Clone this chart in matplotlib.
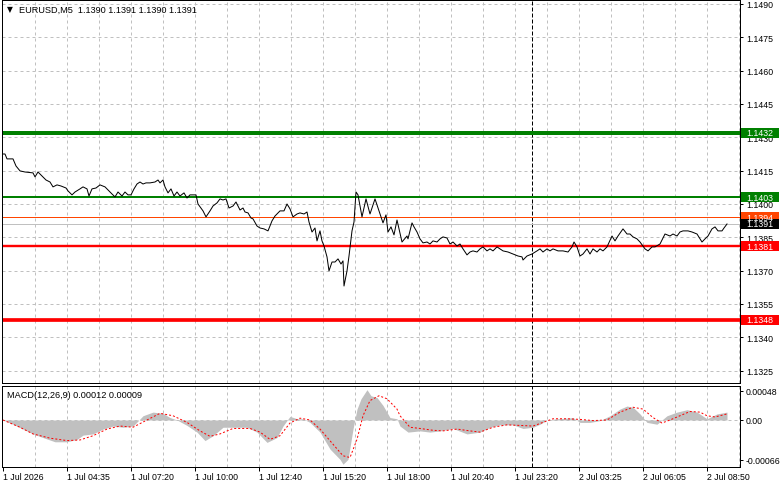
import matplotlib
matplotlib.use("Agg")
import matplotlib.pyplot as plt
import matplotlib.transforms as mtransforms
from matplotlib.patches import Rectangle

# ---------------- data ----------------
symbol = "EURUSD,M5"
ohlc_text = "1.1390 1.1391 1.1390 1.1391"
macd_title = "MACD(12,26,9) 0.00012 0.00009"

price_bars = [0, 1, 2, 5, 6.5, 8.5, 11, 15, 16, 17.5, 19.5, 21.5, 23.5, 25, 27, 29, 31.5, 32.5, 34.5, 36,
              38.5, 40, 42, 43, 44.5, 46.5, 48.5, 51, 52.5, 54.5, 56, 57.5, 59.5, 61, 62.5, 64, 65.5, 67,
              68.5, 70, 71.5, 73.5, 76, 77.5, 78.5, 80, 81, 82.5, 84, 85.5, 87, 88.5, 90.5, 92, 93.5, 95,
              96.5, 97.5, 100, 101.5, 103.5, 105, 107, 108.5, 110, 111.5, 113, 115, 116.5, 118.5, 120, 121,
              122.5, 124, 125, 127, 128.5, 130.5, 132.5, 134.5, 136, 138.5, 140.5, 142, 143.5, 145, 147,
              148.5, 150.5, 152, 153, 154.5, 156, 157, 158.5, 159.5, 160.5, 162, 163, 164.5, 166, 167.5,
              169, 170, 170.5, 172, 173, 174.5, 175.5, 176.5, 177.5, 179.5, 181.5, 183.5, 186, 188.5, 190,
              191.5, 192.5, 194, 195.5, 197, 199.5, 202, 202.5, 204.5, 205.5, 207, 208.5, 210, 212, 213.5,
              215, 217, 218.5, 220, 222, 223.5, 225, 227, 228.5, 230, 232, 233.5, 235, 237, 238.5, 240,
              242, 243.5, 245, 247, 248.5, 250, 252.5, 255, 257.5, 259.5, 260, 262, 264.5, 267, 268.5,
              270, 272, 273.5, 275, 277.5, 280, 282.5, 284.5, 285.5, 287, 288.5, 290, 292, 293.5, 295,
              297, 298.5, 300, 302, 304.5, 306, 307.5, 310, 312, 313.5, 315, 317, 318.5, 321, 322.5,
              324.5, 326, 328.5, 331, 333.5, 335, 337, 338.5, 340, 342.5, 344.5, 347, 349.5, 351, 352.5,
              354.5, 356, 357.5, 359.5, 360.5, 362]
price_close = [1.14225, 1.14225, 1.14203, 1.14203, 1.14171, 1.14149, 1.14144, 1.14140, 1.14122, 1.14144,
               1.14126, 1.14108, 1.14099, 1.14077, 1.14086, 1.14081, 1.14072, 1.14059, 1.14041, 1.14054,
               1.14068, 1.14077, 1.14068, 1.14036, 1.14068, 1.14072, 1.14086, 1.14077, 1.14063, 1.14045,
               1.14032, 1.14054, 1.14036, 1.14054, 1.14041, 1.14041, 1.14068, 1.14090, 1.14099, 1.14090,
               1.14095, 1.14095, 1.14099, 1.14108, 1.14095, 1.14108, 1.14077, 1.14050, 1.14068, 1.14036,
               1.14054, 1.14036, 1.14050, 1.14027, 1.14041, 1.14041, 1.14041, 1.14000, 1.13969, 1.13942,
               1.13969, 1.13991, 1.14005, 1.14023, 1.14018, 1.14023, 1.13982, 1.13991, 1.14009, 1.13973,
               1.13982, 1.13964, 1.13960, 1.13937, 1.13933, 1.13901, 1.13892, 1.13888, 1.13879, 1.13924,
               1.13946, 1.13969, 1.13969, 1.14000, 1.13978, 1.13942, 1.13955, 1.13960, 1.13955, 1.13964,
               1.13919, 1.13874, 1.13892, 1.13834, 1.13879, 1.13834, 1.13811, 1.13762, 1.13699, 1.13739,
               1.13739, 1.13753, 1.13730, 1.13744, 1.13631, 1.13699, 1.13766, 1.13879, 1.13919, 1.14054,
               1.14041, 1.13942, 1.14023, 1.13955, 1.14023, 1.13955, 1.13915, 1.13951, 1.13874, 1.13897,
               1.13861, 1.13928, 1.13829, 1.13856, 1.13843, 1.13915, 1.13897, 1.13874, 1.13843, 1.13825,
               1.13829, 1.13820, 1.13834, 1.13829, 1.13843, 1.13852, 1.13847, 1.13820, 1.13829, 1.13811,
               1.13820, 1.13798, 1.13771, 1.13784, 1.13789, 1.13784, 1.13798, 1.13807, 1.13789, 1.13798,
               1.13789, 1.13807, 1.13798, 1.13789, 1.13784, 1.13775, 1.13766, 1.13762, 1.13748, 1.13766,
               1.13775, 1.13789, 1.13798, 1.13784, 1.13798, 1.13789, 1.13798, 1.13789, 1.13789, 1.13784,
               1.13807, 1.13829, 1.13807, 1.13766, 1.13775, 1.13798, 1.13775, 1.13798, 1.13784, 1.13798,
               1.13789, 1.13807, 1.13856, 1.13834, 1.13856, 1.13888, 1.13865, 1.13865, 1.13852, 1.13843,
               1.13829, 1.13798, 1.13789, 1.13807, 1.13807, 1.13820, 1.13865, 1.13856, 1.13865, 1.13856,
               1.13874, 1.13879, 1.13879, 1.13874, 1.13865, 1.13829, 1.13843, 1.13856, 1.13888, 1.13897,
               1.13879, 1.13879, 1.13892, 1.13910]

level_values = [1.1432, 1.1403, 1.1394, 1.1391, 1.1381, 1.1348]
level_labels = ["1.1432", "1.1403", "1.1394", "1.1391", "1.1381", "1.1348"]

price_ticks = [1.1490, 1.1475, 1.1460, 1.1445, 1.1430, 1.1415, 1.1400, 1.1385, 1.1370, 1.1355, 1.1340, 1.1325]
price_tick_labels = ["1.1490", "1.1475", "1.1460", "1.1445", "1.1430", "1.1415", "1.1400", "1.1385",
                     "1.1370", "1.1355", "1.1340", "1.1325"]

macd_hist_bars = [0, 5, 10, 15, 20, 26, 32, 37, 40, 45, 50, 55, 60, 65, 68, 70, 75, 80, 83.5, 87, 92, 97,
                  101, 105, 110, 115, 122, 127, 132, 137, 140, 143.5, 147, 150, 153.5, 158.5, 163.5, 168.5,
                  170, 172.5, 175, 177, 179, 182, 184, 187, 190, 193.5, 197, 198.5, 202.5, 208.5, 213.5,
                  218.5, 225, 232, 238.5, 243.5, 248.5, 255, 260, 265, 268.5, 272, 277, 282, 285, 288.5,
                  293.5, 298.5, 303.5, 308.5, 312, 315, 318.5, 322, 327, 332, 337, 342, 347, 352, 357, 362]
macd_hist = [0.0, -0.00007, -0.00015, -0.00023, -0.00029, -0.00036, -0.00036, -0.00032, -0.00025, -0.00023,
             -0.00015, -0.00010, -0.00012, -0.00010, 0.0, 0.00007, 0.00013, 0.00011, 0.00004, 0.0,
             -0.00009, -0.00020, -0.00034, -0.00026, -0.00012, -0.00012, -0.00012, -0.00020, -0.00037,
             -0.00029, -0.00010, 0.00006, 0.00002, 0.00002, -0.00004, -0.00020, -0.00048, -0.00065,
             -0.00073, -0.00065, -0.00015, 0.00018, 0.00035, 0.00050, 0.00040, 0.00037, 0.00024, 0.00004,
             0.00002, -0.00010, -0.00020, -0.00018, -0.00020, -0.00018, -0.00014, -0.00023, -0.00020,
             -0.00012, -0.00008, -0.00008, -0.00014, -0.00012, -0.00007, 0.0, 0.00002, 0.00003, 0.00004,
             -0.00004, -0.00004, -0.00001, 0.00007, 0.00018, 0.00023, 0.00021, 0.00010, -0.00004, -0.00007,
             0.00007, 0.00013, 0.00017, 0.00013, 0.00002, 0.00010, 0.00013]

signal_bars = [0, 8.5, 15, 23.5, 32, 38.5, 45, 52, 58.5, 65, 72, 78.5, 85, 92, 98.5, 103.5, 108.5, 115,
               123.5, 128.5, 133.5, 138.5, 143.5, 148.5, 153.5, 158.5, 165, 170, 173.5, 177, 180, 183.5,
               188, 192, 197, 198.5, 203.5, 208.5, 215, 220, 227, 233.5, 238.5, 245, 252, 258.5, 265, 270,
               275, 282, 288.5, 295, 302, 308.5, 315, 320, 325, 329.5, 333.5, 338.5, 343.5, 348.5, 352,
               356, 362]
signal_vals = [0.0, -0.00012, -0.00023, -0.00030, -0.00034, -0.00033, -0.00026, -0.00015, -0.00010,
               -0.00012, 0.0, 0.00011, 0.00007, -0.00004, -0.00018, -0.00027, -0.00023, -0.00014, -0.00014,
               -0.00020, -0.00032, -0.00026, -0.00005, 0.00003, 0.0, -0.00015, -0.00040, -0.00059,
               -0.00062, -0.00032, 0.00007, 0.00032, 0.00040, 0.00035, 0.00018, 0.00007, -0.00012,
               -0.00014, -0.00017, -0.00018, -0.00015, -0.00018, -0.00020, -0.00012, -0.00008, -0.00009,
               -0.00010, -0.00004, 0.00002, 0.00002, 0.00001, -0.00001, 0.0, 0.00013, 0.00021, 0.00018,
               0.00004, -0.00005, 0.0, 0.00007, 0.00014, 0.00013, 0.00007, 0.00005, 0.00010]

macd_ticks = [0.00048, 0.0, -0.00066]
macd_tick_labels = ["0.00048", "0.00", "-0.00066"]

time_labels = ["1 Jul 2026", "1 Jul 04:35", "1 Jul 07:20", "1 Jul 10:00", "1 Jul 12:40", "1 Jul 15:20",
               "1 Jul 18:00", "1 Jul 20:40", "1 Jul 23:20", "2 Jul 03:25", "2 Jul 06:05", "2 Jul 08:50"]
time_label_bars = [0, 32, 64, 96, 128, 160, 192, 224, 256, 288, 320, 352]
grid_bars = list(range(16, 369, 16))
day_separator_bar = 264.5

# ---------------- style / layout ----------------
W, H = 781, 489
PX = 0.72  # one pixel in points at dpi 100
plt.rcParams['font.family'] = ['Liberation Sans', 'DejaVu Sans']
FS = 6.3

level_colors = ['#008000', '#008000', '#FF4500', '#000000', '#FF0000', '#FF0000']
level_line_colors = ['#008000', '#008000', '#FF4500', '#C0C0C0', '#FF0000', '#FF0000']
level_widths = [4, 2, 1, 1, 2.4, 3.7]
grid_color = '#C0C0C0'

fig = plt.figure(figsize=(W / 100, H / 100), dpi=100)
fig.patch.set_facecolor('white')


def px_axes(x0, y0, x1, y1):
    return fig.add_axes([x0 / W, 1 - y1 / H, (x1 - x0) / W, (y1 - y0) / H])


ax = px_axes(2, 1, 740, 384)
ax2 = px_axes(2, 387, 740, 468)

xlim = (-0.5, 368.5)
for a in (ax, ax2):
    a.set_xlim(*xlim)
    for s in a.spines.values():
        s.set_linewidth(PX)
        s.set_color('black')
    for gb in grid_bars:
        a.axvline(gb, color=grid_color, lw=PX, ls=(0, (3, 3)), zorder=0.5)
    a.axvline(day_separator_bar, color='black', lw=PX, ls=(0, (4, 2)), zorder=1)

ax.set_ylim(1.131945, 1.14918)
ax2.set_ylim(-0.000776, 0.000561)

# main price panel
for t in price_ticks:
    ax.axhline(t, color=grid_color, lw=PX, ls=(0, (3, 3)), zorder=0.5)

for v, c, w in zip(level_values, level_line_colors, level_widths):
    ax.axhline(v, color=c, lw=w * PX, zorder=1.5)

ax.plot(price_bars, price_close, color='black', lw=PX, zorder=3)

ax.yaxis.tick_right()
ax.set_yticks(price_ticks)
ax.set_yticklabels(price_tick_labels)
ax.tick_params(axis='y', direction='out', length=3 * PX, width=PX, pad=3 * PX, labelsize=FS)
ax.set_xticks([])

trans = mtransforms.blended_transform_factory(ax.transAxes, ax.transData)
hh = 5 * 0.000045
for v, lab, c in zip(level_values, level_labels, level_colors):
    ax.add_patch(Rectangle((1.0014, v - hh), 38 / 738, 2 * hh, transform=trans,
                           facecolor=c, edgecolor='none', clip_on=False, zorder=5))
    ax.text(1.0081, v, lab, transform=trans, color='white', fontsize=FS, va='center', ha='left',
            clip_on=False, zorder=6)

ax.text(5 / 738, 1 - 9 / 383, "\u25BC", transform=ax.transAxes, fontsize=5.5, family='DejaVu Sans',
        va='center', ha='left', color='black')
ax.text(17 / 738, 1 - 9 / 383, f"{symbol}  {ohlc_text}", transform=ax.transAxes, fontsize=6.6,
        va='center', ha='left', color='black')

# MACD panel
ax2.axhline(0, color=grid_color, lw=PX, ls=(0, (3, 3)), zorder=0.5)
ax2.fill_between(macd_hist_bars, macd_hist, 0, color='#C0C0C0', lw=0, zorder=1)
ax2.plot(signal_bars, signal_vals, color='#FF0000', lw=PX, ls=(0, (2, 2)), zorder=3)

ax2.yaxis.tick_right()
ax2.set_yticks(macd_ticks)
ax2.set_yticklabels(macd_tick_labels)
ax2.tick_params(axis='y', direction='out', length=3 * PX, width=PX, pad=3 * PX, labelsize=FS)
ax2.set_xticks(time_label_bars)
ax2.set_xticklabels(time_labels, ha='left')
ax2.tick_params(axis='x', direction='out', length=4 * PX, width=PX, pad=1.5 * PX, labelsize=FS)

ax2.text(5 / 738, 1 - 8 / 81, macd_title, transform=ax2.transAxes, fontsize=6.6, va='center',
         ha='left', color='black')

fig.savefig("out.png", dpi=100, facecolor='white')
